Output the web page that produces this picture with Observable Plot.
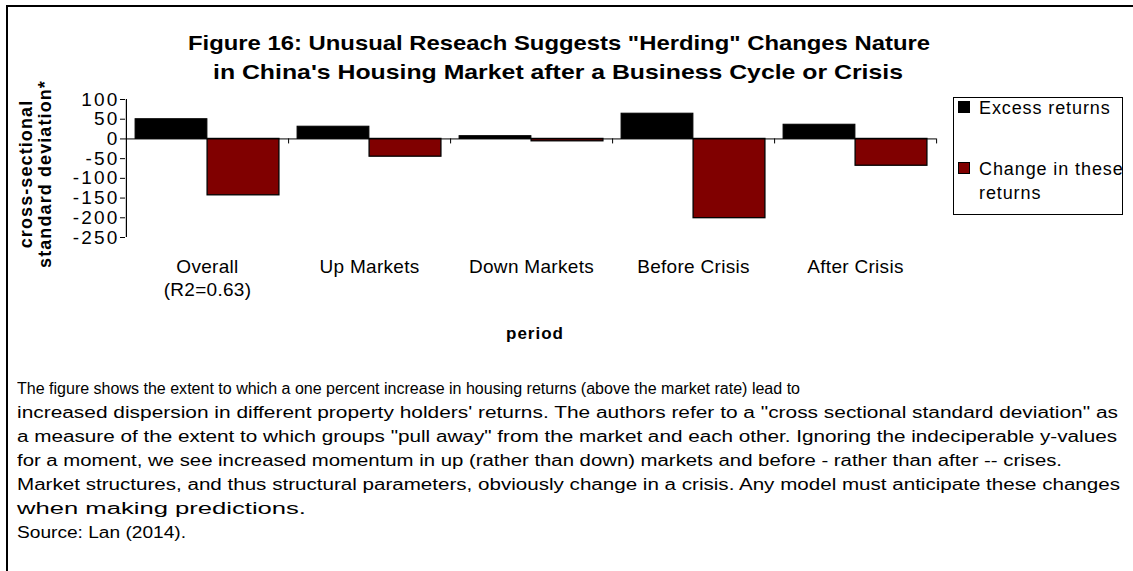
<!DOCTYPE html>
<html>
<head>
<meta charset="utf-8">
<script src="https://cdn.jsdelivr.net/npm/d3@7"></script>
<script src="https://cdn.jsdelivr.net/npm/@observablehq/plot@0.6"></script>
<style>
  html, body { margin: 0; padding: 0; background: #fff; }
  #wrap { position: relative; width: 1133px; height: 571px; overflow: hidden; font-family: "Liberation Sans", Arial, sans-serif; color: #000; }
  #frameTop { position: absolute; left: 7px; top: 5px; width: 1126px; height: 0; border-top: 2px solid #000; }
  #frameLeft { position: absolute; left: 6px; top: 5px; width: 0; height: 566px; border-left: 2px solid #000; }
  #title { position: absolute; left: 0; width: 1120px; top: 28px; font-weight: bold; font-size: 21px; line-height: 29px; }
  .line { position: relative; height: 24px; }
  .line span { position: absolute; left: 0; top: 0; white-space: pre; display: inline-block; transform-origin: 0 50%; }
  #ytitle { position: absolute; left: 36px; top: 174px; transform: translate(-50%, -50%) rotate(-90deg); font-weight: bold; font-size: 18px; line-height: 19px; text-align: center; white-space: nowrap; letter-spacing: 1.1px; }
  #xtitle { position: absolute; left: 535px; top: 334px; transform: translate(-50%, -50%); font-weight: bold; font-size: 17px; letter-spacing: 1px; }
  #chart { position: absolute; left: 0; top: 0; }
  #chart svg g[aria-label="y-axis tick label"] text { letter-spacing: 2.2px; }
  #chart svg g[aria-label="text"] text { letter-spacing: 0.3px; }
  #legend { position: absolute; left: 953px; top: 97px; width: 170px; height: 118px; border: 1px solid #000; box-sizing: border-box; font-size: 18px; letter-spacing: 0.9px; white-space: nowrap; }
  .item { position: absolute; left: 4px; display: flex; align-items: flex-start; }
  .sw { width: 10px; height: 10px; border: 1px solid #000; margin-top: 5px; margin-right: 9px; flex: none; }
  #caption { position: absolute; left: 17px; top: 377px; font-size: 16px; line-height: 24px; }
</style>
</head>
<body>
<div id="wrap">
  <div id="frameTop"></div>
  <div id="frameLeft"></div>
  <div id="title"></div>
  <div id="ytitle"></div>
  <div id="xtitle"></div>
  <div id="chart"></div>
  <div id="legend"></div>
  <div id="caption"></div>
</div>
<script>
// ---- data ----
const categories = ["Overall", "Up Markets", "Down Markets", "Before Crisis", "After Crisis"];
const categoryLabels = ["Overall\n(R2=0.63)", "Up Markets", "Down Markets", "Before Crisis", "After Crisis"];
const seriesNames = ["Excess returns", "Change in these returns"];
const excessReturns = [50, 31, 7, 64, 36];
const changeInReturns = [-143, -45, -6, -201, -68];
const yTicks = [100, 50, 0, -50, -100, -150, -200, -250];
const seriesColors = ["#000000", "#800000"];

const titleLines = ["Figure 16: Unusual Reseach Suggests \"Herding\" Changes Nature", "in China's Housing Market after a Business Cycle or Crisis"];
const yTitleLines = ["cross-sectional", "standard deviation*"];
const xTitle = "period";
const legendLines = [["Excess returns"], ["Change in these", "returns"]];
const captionLines = [
  "The figure shows the extent to which a one percent increase in housing returns (above the market rate) lead to",
  "increased dispersion in different property holders' returns. The authors refer to a \"cross sectional standard deviation\" as",
  "a measure of the extent to which groups \"pull away\" from the market and each other. Ignoring the indeciperable y-values",
  "for a moment, we see increased momentum in up (rather than down) markets and before - rather than after -- crises.",
  "Market structures, and thus structural parameters, obviously change in a crisis. Any model must anticipate these changes",
  "when making predictions.",
  "Source: Lan (2014)."
];

// ---- table ----
const rows = [];
categories.forEach((c, i) => {
  rows.push({category: c, series: seriesNames[0], value: excessReturns[i]});
  rows.push({category: c, series: seriesNames[1], value: changeInReturns[i]});
});

// ---- layout ----
const W = 1133, H = 350;
const mL = 125, mR = 197, mT = 99, mB = 113;
const band = (W - mL - mR) / categories.length;
const pad = band * 0.056;
const half = band / 2;

const plot = Plot.plot({
  width: W, height: H,
  marginLeft: mL, marginRight: mR, marginTop: mT, marginBottom: mB,
  style: {fontFamily: "Liberation Sans, Arial, sans-serif", background: "transparent", overflow: "visible"},
  x: {domain: categories, padding: 0, axis: null},
  y: {domain: [-250, 100], axis: null},
  color: {domain: seriesNames, range: seriesColors},
  marks: [
    Plot.barY(rows.filter(d => d.series === seriesNames[0]), {
      x: "category", y: "value", fill: "series", stroke: "#000", strokeWidth: 1,
      insetLeft: pad, insetRight: half
    }),
    Plot.barY(rows.filter(d => d.series === seriesNames[1]), {
      x: "category", y: "value", fill: "series", stroke: "#000", strokeWidth: 1.3,
      insetLeft: half, insetRight: pad
    }),
    Plot.ruleY([0], {stroke: "#000", strokeWidth: 1}),
    Plot.ruleX(categories, {x: d => d, dx: half, y1: 0, y2: 0, insetBottom: -5, stroke: "#000"}),
    Plot.ruleX([categories[0]], {x: d => d, dx: -half, stroke: "#000", strokeWidth: 1.2}),
    Plot.axisY({ticks: yTicks, label: null, tickSize: 5, tickPadding: 1, fontSize: 19, tickFormat: d => String(d), stroke: "#000"}),
    Plot.text(categories, {
      x: d => d, frameAnchor: "bottom", dy: 19, lineAnchor: "top", lineHeight: 1.21,
      text: (d, i) => categoryLabels[i], fontSize: 19, fill: "#000"
    })
  ]
});
document.getElementById("chart").appendChild(plot);

// ---- helper: stretch a line of text horizontally to the width it has in the figure ----
function addLine(parent, text, left, right, h) {
  const row = document.createElement("div");
  row.className = "line";
  row.style.height = h + "px";
  const sp = document.createElement("span");
  sp.textContent = text;
  row.appendChild(sp);
  parent.appendChild(row);
  const w = sp.getBoundingClientRect().width;
  sp.style.left = left + "px";
  sp.style.transform = "scaleX(" + ((right - left) / w) + ")";
}

// ---- title ----
const titleEl = document.getElementById("title");
const titleBounds = [[188, 930], [213, 903]];
titleLines.forEach((t, i) => addLine(titleEl, t, titleBounds[i][0], titleBounds[i][1], 29));

document.getElementById("ytitle").innerHTML = yTitleLines.join("<br>");
document.getElementById("xtitle").textContent = xTitle;

// ---- caption ----
const capEl = document.getElementById("caption");
const captionRight = [800, 1118, 1117, 1062, 1120, 306, 186];
captionLines.forEach((t, i) => addLine(capEl, t, 0, captionRight[i] - 17, 24));

// ---- legend ----
const legend = document.getElementById("legend");
const legendTop = [-2, 59];
seriesNames.forEach((s, i) => {
  const it = document.createElement("div");
  it.className = "item";
  it.style.top = legendTop[i] + "px";
  const sw = document.createElement("div");
  sw.className = "sw";
  sw.style.background = seriesColors[i];
  const tx = document.createElement("div");
  tx.style.lineHeight = "24px";
  tx.innerHTML = legendLines[i].join("<br>");
  it.appendChild(sw); it.appendChild(tx);
  legend.appendChild(it);
});
</script>
</body>
</html>
